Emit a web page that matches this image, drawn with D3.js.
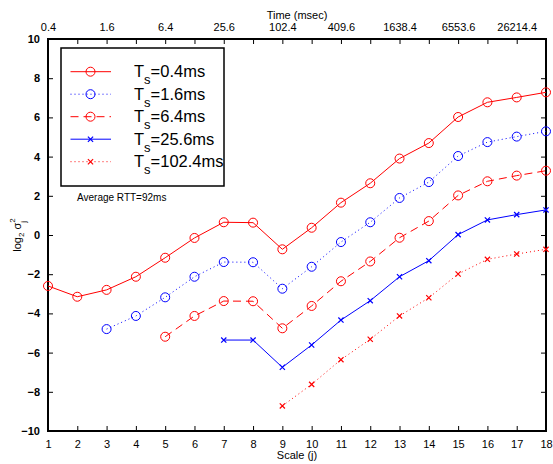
<!DOCTYPE html>
<html><head><meta charset="utf-8">
<script src="https://cdn.jsdelivr.net/npm/d3@7"></script>
<style>body{margin:0;background:#fff}svg{display:block;font-family:"Liberation Sans",Arial,Helvetica,sans-serif}</style>
</head><body>
<script>
const scales = d3.range(1, 19);
const topTickLabels = ["0.4","1.6","6.4","25.6","102.4","409.6","1638.4","6553.6","26214.4"];
const yTicks = [-10,-8,-6,-4,-2,0,2,4,6,8,10];
const seriesNames = ["0.4ms","1.6ms","6.4ms","25.6ms","102.4ms"];
const s1 = [-2.6,-3.15,-2.8,-2.13,-1.16,-0.15,0.65,0.63,-0.73,0.37,1.65,2.64,3.9,4.69,6.02,6.77,7.02,7.28];
const s2 = [null,null,-4.8,-4.13,-3.18,-2.13,-1.38,-1.39,-2.74,-1.62,-0.36,0.65,1.89,2.7,4.03,4.74,5.02,5.29];
const s3 = [null,null,null,null,-5.19,-4.13,-3.37,-3.38,-4.76,-3.62,-2.36,-1.35,-0.14,0.71,2.02,2.74,3.03,3.28];
const s4 = [null,null,null,null,null,null,-5.36,-5.36,-6.75,-5.61,-4.34,-3.35,-2.13,-1.31,0.02,0.77,1.04,1.28];
const s5 = [null,null,null,null,null,null,null,null,-8.72,-7.62,-6.36,-5.32,-4.13,-3.2,-1.99,-1.24,-0.97,-0.73];

const W = 553, H = 464;
const L = 48, R = 546, T = 39, B = 431;
const svg = d3.select("body").append("svg").attr("width", W).attr("height", H);
const x = d3.scaleLinear().domain([1, 18]).range([L, R]);
const y = d3.scaleLinear().domain([-10, 10]).range([B, T]);

const styles = [
  {data: s1, color: "#ff0000", dash: null, marker: "o"},
  {data: s2, color: "#0000ff", dash: "1,3", marker: "o"},
  {data: s3, color: "#ff0000", dash: "8,5", marker: "o"},
  {data: s4, color: "#0000ff", dash: null, marker: "x"},
  {data: s5, color: "#ff0000", dash: "1,3", marker: "x"}
];

// axes
const fs = 11;
const bottom = svg.append("g").attr("transform", `translate(0,${B})`)
  .call(d3.axisBottom(x).tickValues(scales).tickFormat(d3.format("d")).tickSizeInner(-5).tickSizeOuter(0).tickPadding(9));
const topAx = svg.append("g").attr("transform", `translate(0,${T})`)
  .call(d3.axisTop(x).tickValues(scales).tickFormat((d) => (d % 2 === 1 ? topTickLabels[(d - 1) / 2] : "")).tickSizeInner(-5).tickSizeOuter(0).tickPadding(8));
const leftAx = svg.append("g").attr("transform", `translate(${L},0)`)
  .call(d3.axisLeft(y).tickValues(yTicks).tickFormat((d) => d < 0 ? "\u2212" + Math.abs(d) : d).tickSizeInner(-5).tickSizeOuter(0).tickPadding(8));
const rightAx = svg.append("g").attr("transform", `translate(${R},0)`)
  .call(d3.axisRight(y).tickValues(yTicks).tickFormat("").tickSizeInner(-5).tickSizeOuter(0));
[bottom, topAx, leftAx, rightAx].forEach(g => {
  g.select(".domain").remove();
  g.selectAll("line").attr("stroke", "#000").attr("stroke-width", 1);
  g.selectAll("text").attr("font-size", fs).attr("fill", "#000").attr("font-family", "Liberation Sans, Arial, sans-serif");
});
leftAx.selectAll("text").attr("font-weight", "bold");
svg.append("rect").attr("x", L).attr("y", T).attr("width", R - L).attr("height", B - T)
  .attr("fill", "none").attr("stroke", "#000").attr("stroke-width", 2);

// series
styles.forEach(s => {
  const pts = s.data.map((v, i) => ({j: scales[i], v})).filter(d => d.v !== null);
  const line = d3.line().x(d => x(d.j)).y(d => y(d.v));
  svg.append("path").datum(pts).attr("d", line).attr("fill", "none")
    .attr("stroke", s.color).attr("stroke-width", 1).attr("stroke-dasharray", s.dash);
  const g = svg.append("g");
  pts.forEach(d => drawMarker(g, x(d.j), y(d.v), s));
});

function drawMarker(g, cx, cy, s) {
  if (s.marker === "o") {
    g.append("circle").attr("cx", cx).attr("cy", cy).attr("r", 4.5)
      .attr("fill", "none").attr("stroke", s.color).attr("stroke-width", 1);
  } else {
    const r = 2.6;
    g.append("path").attr("d", `M${cx-r},${cy-r}L${cx+r},${cy+r}M${cx-r},${cy+r}L${cx+r},${cy-r}`)
      .attr("stroke", s.color).attr("stroke-width", 1.2).attr("fill", "none");
  }
}

// legend
const lg = svg.append("g");
lg.append("rect").attr("x", 61).attr("y", 48).attr("width", 163).attr("height", 138)
  .attr("fill", "#fff").attr("stroke", "#000").attr("stroke-width", 1.5);
const rowY = [71.7, 94.2, 116.7, 139.2, 161.7];
styles.forEach((s, i) => {
  const yy = rowY[i];
  lg.append("line").attr("x1", 70.5).attr("x2", 111).attr("y1", yy).attr("y2", yy)
    .attr("stroke", s.color).attr("stroke-width", 1).attr("stroke-dasharray", s.dash);
  drawMarker(lg, 90.5, yy, s);
  const t = lg.append("text").attr("x", 134).attr("y", yy + 5.5).attr("font-size", 16.5).attr("fill", "#000");
  t.append("tspan").text("T");
  t.append("tspan").attr("font-size", 13).attr("dy", 7).text("s");
  t.append("tspan").attr("dy", -7).text("=" + seriesNames[i]);
});

svg.append("text").attr("x", 77).attr("y", 201).attr("font-size", 10).text("Average RTT=92ms");

// axis titles
svg.append("text").attr("x", 297).attr("y", 19).attr("text-anchor", "middle").attr("font-size", fs).text("Time (msec)");
svg.append("text").attr("x", 297).attr("y", 459).attr("text-anchor", "middle").attr("font-size", fs).text("Scale (j)");
const yl = svg.append("text").attr("transform", "translate(21,235) rotate(-90)").attr("text-anchor", "middle").attr("font-size", fs);
yl.append("tspan").text("log");
yl.append("tspan").attr("font-size", 8).attr("dy", 3).text("2");
yl.append("tspan").attr("dy", -3).text(" \u03c3");
yl.append("tspan").attr("font-size", 8).attr("dy", -6).text("2");
yl.append("tspan").attr("font-size", 8).attr("dx", -4.5).attr("dy", 11).text("j");
</script>
</body></html>
